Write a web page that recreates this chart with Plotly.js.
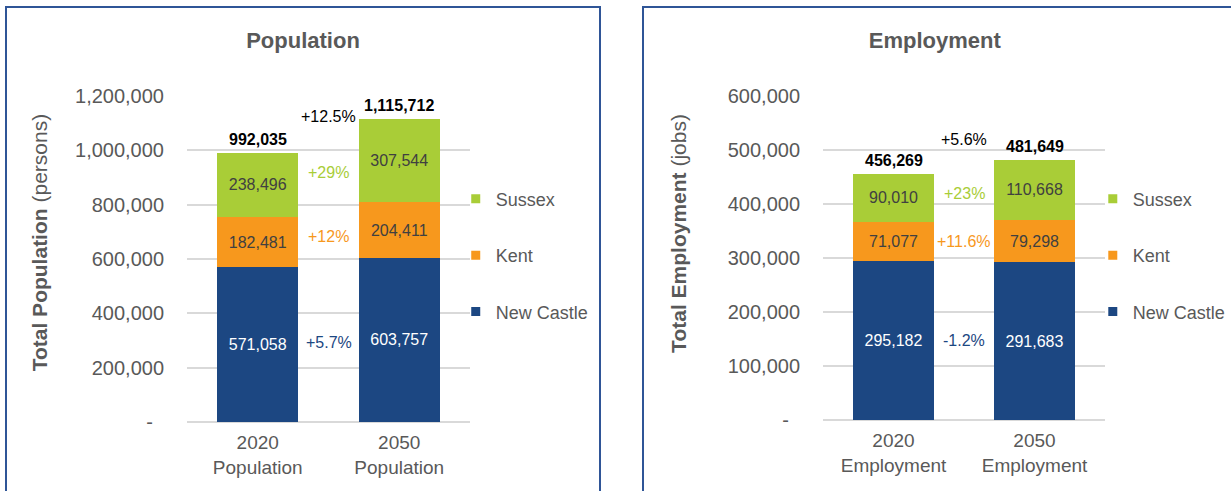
<!DOCTYPE html>
<html>
<head>
<meta charset="utf-8">
<script src="https://cdn.plot.ly/plotly-3.0.1.min.js"></script>
<style>
    body { margin: 0; background: #ffffff; overflow: hidden; }
    .panel {
        position: absolute;
        top: 6px;
        height: 500px;
        border: 2px solid #2f5597;
        box-sizing: border-box;
        background: #ffffff;
    }
    #popPanel { left: 5px; width: 596px; }
    #empPanel { left: 642px; width: 600px; }
</style>
</head>
<body>
<div id="popPanel" class="panel"><div id="popChart"></div></div>
<div id="empPanel" class="panel"><div id="empChart"></div></div>
<script>
// Population
const popCategories = ["2020<br>Population", "2050<br>Population"];
const popNewCastle = [571058, 603757];
const popKent = [182481, 204411];
const popSussex = [238496, 307544];
const popSeriesGrowth = ["+5.7%", "+12%", "+29%"];
const popTotalGrowth = "+12.5%";
const popTickVals = [0, 200000, 400000, 600000, 800000, 1000000, 1200000];
const popTickText = ["-\u00a0\u00a0", "200,000", "400,000", "600,000", "800,000", "1,000,000", "1,200,000"];

// Employment
const empCategories = ["2020<br>Employment", "2050<br>Employment"];
const empNewCastle = [295182, 291683];
const empKent = [71077, 79298];
const empSussex = [90010, 110668];
const empSeriesGrowth = ["-1.2%", "+11.6%", "+23%"];
const empTotalGrowth = "+5.6%";
const empTickVals = [0, 100000, 200000, 300000, 400000, 500000, 600000];
const empTickText = ["-\u00a0\u00a0", "100,000", "200,000", "300,000", "400,000", "500,000", "600,000"];

const seriesNames = ["New Castle", "Kent", "Sussex"];
const seriesColors = ["#1c4782", "#f7981d", "#a9cd37"];
const insideTextColors = ["#ffffff", "#404040", "#404040"];

const FONT = "Arial, 'Liberation Sans', sans-serif";
const GREY = "#595959";

function drawChart(divId, opts) {
    const stacks = [opts.newCastle, opts.kent, opts.sussex];
    const totals = opts.categories.map((c, i) => stacks.reduce((s, arr) => s + arr[i], 0));

    const traces = stacks.map((vals, k) => ({
        type: "bar",
        x: opts.categories,
        y: vals,
        name: seriesNames[k],
        marker: { color: seriesColors[k], line: { width: 0 } },
        texttemplate: "%{y:,}",
        textposition: "inside",
        insidetextanchor: "middle",
        textfont: { family: FONT, size: 16, color: insideTextColors[k] },
        constraintext: "none",
        hoverinfo: "skip",
        showlegend: false
    }));

    // legend-only entries (Sussex first), so the swatches can be small squares
    for (let k = seriesNames.length - 1; k >= 0; k--) {
        traces.push({
            type: "scatter",
            mode: "markers",
            x: [null],
            y: [null],
            name: seriesNames[k],
            legendgroup: seriesNames[k],
            marker: { symbol: "square", size: 9, color: seriesColors[k] },
            hoverinfo: "skip"
        });
    }

    const annotations = [];

    totals.forEach((t, i) => {
        annotations.push({
            x: i, y: t, xref: "x", yref: "y",
            text: "<b>" + t.toLocaleString("en-US") + "</b>",
            showarrow: false, yanchor: "bottom", yshift: 3,
            font: { family: FONT, size: 16, color: "#000000" }
        });
    });

    // growth labels between the bars, at the mean height of the two segments
    stacks.forEach((vals, k) => {
        const mids = [0, 1].map(i => {
            let base = 0;
            for (let j = 0; j < k; j++) base += stacks[j][i];
            return base + vals[i] / 2;
        });
        annotations.push({
            x: 0.5, y: (mids[0] + mids[1]) / 2, xref: "x", yref: "y",
            text: opts.seriesGrowth[k], showarrow: false,
            font: { family: FONT, size: 16, color: seriesColors[k] }
        });
    });

    annotations.push({
        x: 0.5, y: totals[1], xref: "x", yref: "y",
        text: opts.totalGrowth, showarrow: false, yshift: opts.totalGrowthShift,
        font: { family: FONT, size: 16, color: "#000000" }
    });

    annotations.push({
        x: opts.yTitleX, y: opts.yTitleY, xref: "paper", yref: "paper",
        xanchor: "center", yanchor: "top", textangle: -90,
        text: opts.yTitle, showarrow: false,
        font: { family: FONT, size: 21, color: GREY }
    });

    const layout = {
        width: opts.width,
        height: 496,
        margin: Object.assign({ autoexpand: false }, opts.margin),
        paper_bgcolor: "#ffffff",
        plot_bgcolor: "#ffffff",
        barmode: "stack",
        bargap: 0.43,
        font: { family: FONT, color: GREY },
        title: {
            text: "<b>" + opts.title + "</b>",
            xref: "container", x: opts.titleX,
            yref: "container", y: 0.935, yanchor: "middle",
            font: { family: FONT, size: 22, color: GREY }
        },
        xaxis: {
            type: "category",
            showline: false,
            showgrid: false,
            ticks: "",
            ticklabelstandoff: 7,
            tickfont: { family: FONT, size: 19, color: GREY }
        },
        yaxis: {
            range: [0, opts.tickVals[opts.tickVals.length - 1]],
            tickvals: opts.tickVals,
            ticktext: opts.tickText,
            showline: false,
            gridcolor: "#d9d9d9",
            gridwidth: 2,
            zeroline: true,
            zerolinecolor: "#d9d9d9",
            zerolinewidth: 2,
            ticks: "",
            ticklabelstandoff: 22,
            tickfont: { family: FONT, size: 20, color: GREY }
        },
        legend: {
            xref: "container", x: opts.legendX, xanchor: "left",
            yref: "container", y: 0.652, yanchor: "top",
            traceorder: "grouped",
            tracegroupgap: 30,
            font: { family: FONT, size: 18, color: GREY },
            bgcolor: "rgba(0,0,0,0)"
        },
        annotations: annotations
    };

    Plotly.newPlot(divId, traces, layout, { displayModeBar: false, staticPlot: true });
}

drawChart("popChart", {
    categories: popCategories,
    newCastle: popNewCastle,
    kent: popKent,
    sussex: popSussex,
    seriesGrowth: popSeriesGrowth,
    totalGrowth: popTotalGrowth,
    totalGrowthShift: 2,
    tickVals: popTickVals,
    tickText: popTickText,
    title: "Population",
    titleX: 0.5,
    yTitle: "<b>Total Population</b> (persons)",
    yTitleX: -0.52,
    yTitleY: 0.951,
    legendX: 0.758,
    width: 592,
    margin: { l: 180, r: 129, t: 88, b: 82 }
});

drawChart("empChart", {
    categories: empCategories,
    newCastle: empNewCastle,
    kent: empKent,
    sussex: empSussex,
    seriesGrowth: empSeriesGrowth,
    totalGrowth: empTotalGrowth,
    totalGrowthShift: 20,
    tickVals: empTickVals,
    tickText: empTickText,
    title: "Employment",
    titleX: 0.488,
    yTitle: "<b>Total Employment</b> (jobs)",
    yTitleX: -0.51,
    yTitleY: 0.95,
    legendX: 0.753,
    width: 596,
    margin: { l: 179, r: 135, t: 88, b: 84 }
});
</script>
</body>
</html>
